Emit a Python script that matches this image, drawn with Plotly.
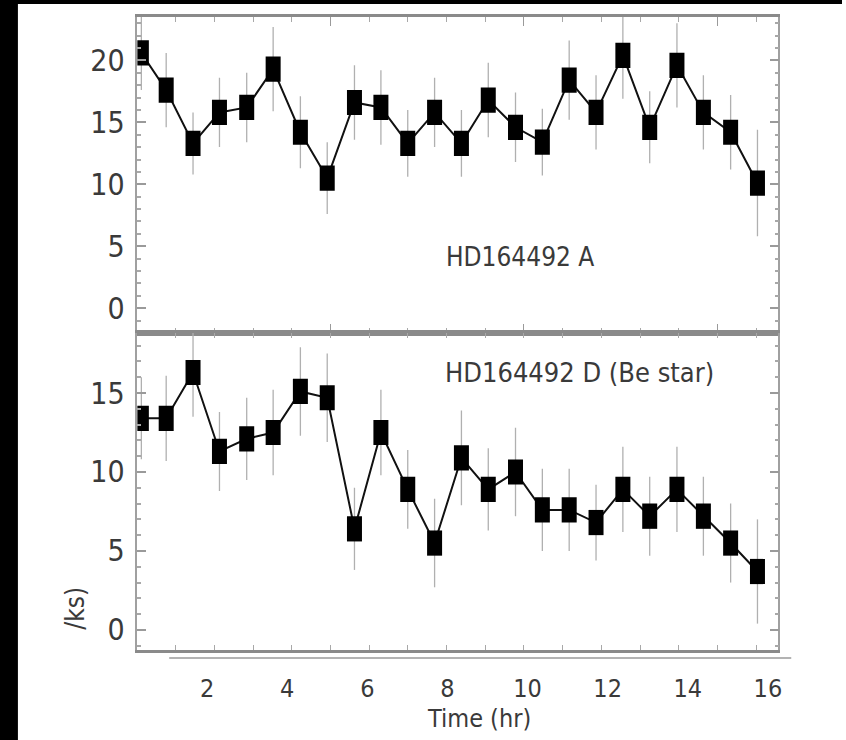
import plotly.graph_objects as go

# ---- data ----
time_hr = [0.36, 0.98, 1.65, 2.31, 2.99, 3.65, 4.33, 5.00, 5.68, 6.34, 7.01, 7.68,
           8.35, 9.02, 9.70, 10.37, 11.04, 11.71, 12.38, 13.05, 13.73, 14.39, 15.07, 15.74]

rate_A = [20.6, 17.6, 13.3, 15.8, 16.2, 19.3, 14.2, 10.5, 16.6, 16.2, 13.3, 15.8,
          13.3, 16.8, 14.6, 13.4, 18.4, 15.8, 20.4, 14.6, 19.6, 15.8, 14.2, 10.1]
err_A = [3.0, 3.0, 2.5, 2.8, 2.8, 3.4, 2.9, 2.9, 3.0, 3.0, 2.7, 2.8,
         2.7, 3.0, 2.8, 2.7, 3.2, 3.0, 3.5, 2.9, 3.4, 3.0, 3.0, 4.3]

rate_D = [13.4, 13.4, 16.3, 11.3, 12.1, 12.5, 15.1, 14.7, 6.4, 12.5, 8.9, 5.5,
          10.9, 8.9, 10.0, 7.6, 7.6, 6.8, 8.9, 7.2, 8.9, 7.2, 5.5, 3.7]
err_D = [2.6, 2.7, 2.8, 2.5, 2.6, 2.7, 2.8, 2.8, 2.6, 2.7, 2.5, 2.8,
         3.0, 2.6, 2.8, 2.6, 2.6, 2.4, 2.7, 2.5, 2.7, 2.5, 2.5, 3.3]

x_tick_vals = [2, 4, 6, 8, 10, 12, 14, 16]
x_tick_text = ["2", "4", "6", "8", "10", "12", "14", "16"]
label_A = "HD164492 A"
label_D = "HD164492 D (Be star)"
x_title = "Time (hr)"
y_title_part = "/ks)"

FONT = "DejaVu Sans Condensed, Liberation Sans Narrow, Liberation Sans, sans-serif"
W, H = 846, 740

fig = go.Figure()

def add_series(y, e, xa, ya):
    fig.add_trace(go.Scatter(
        x=time_hr, y=y, xaxis=xa, yaxis=ya,
        mode="lines+markers",
        line=dict(color="#111111", width=2),
        marker=dict(symbol="line-ns-open", size=18, color="#000000",
                    line=dict(color="#000000", width=15)),
        error_y=dict(type="data", array=e, visible=True,
                     color="#b0b0b0", thickness=1.3, width=0),
        showlegend=False, hoverinfo="skip"))

add_series(rate_A, err_A, "x", "y")
add_series(rate_D, err_D, "x2", "y2")

xdom = [138 / W, 782 / W]
top_dom = [1 - 333 / H, 1 - 17 / H]
bot_dom = [1 - 650 / H, 1 - 333 / H]
xrange = [0.26, 16.26]

common_x = dict(range=xrange, domain=xdom, showline=True, linecolor="#8a8a8a",
                linewidth=3, mirror="ticks", showgrid=False, zeroline=False,
                tickcolor="#9a9a9a")
common_y = dict(showline=True, linecolor="#a0a0a0", linewidth=1.5, mirror="ticks",
                showgrid=False, zeroline=False, ticks="inside", ticklen=9,
                tickwidth=1.5, tickcolor="#9a9a9a", tick0=0, dtick=5,
                minor=dict(ticks="inside", dtick=1, ticklen=4, tickcolor="#a8a8a8"),
                tickfont=dict(family=FONT, size=30, color="#3a3a3a"),
                ticklabelstandoff=5)

fig.update_layout(
    width=W, height=H,
    margin=dict(l=0, r=0, t=0, b=0),
    paper_bgcolor="white", plot_bgcolor="rgba(0,0,0,0)",
    xaxis=dict(common_x, anchor="y", ticks="inside", tickvals=[5.08, 9.91, 14.74],
               ticklen=9, showticklabels=False,
               minor=dict(ticks="inside", tick0=0.25, dtick=0.966, ticklen=5,
                          tickcolor="#a8a8a8")),
    yaxis=dict(common_y, domain=top_dom, anchor="x", range=[-2.0, 23.5]),
    xaxis2=dict(common_x, anchor="y2", ticks="", tickvals=x_tick_vals,
                ticktext=x_tick_text, showticklabels=True, ticklabelstandoff=14,
                tickfont=dict(family=FONT, size=25, color="#3a3a3a"),
                minor=dict(ticks="inside", tick0=0.25, dtick=0.966, ticklen=5,
                           tickcolor="#a8a8a8")),
    yaxis2=dict(common_y, domain=bot_dom, anchor="x2", range=[-1.27, 18.8]),
)

shapes = [
    # black scan border strips
    dict(type="rect", xref="paper", yref="paper", x0=0, x1=18 / W, y0=0, y1=1,
         fillcolor="black", line=dict(width=0), layer="above"),
    dict(type="rect", xref="paper", yref="paper", x0=0, x1=1, y0=1 - 4 / H, y1=1,
         fillcolor="black", line=dict(width=0), layer="above"),
    # offset axis line under the lower panel
    dict(type="line", xref="paper", yref="paper", x0=170 / W, x1=795 / W,
         y0=1 - 658 / H, y1=1 - 658 / H, line=dict(color="#9a9a9a", width=1.5)),
]
fig.update_layout(shapes=shapes)

def ann(text, px, py, size, angle=0):
    return dict(text=text, xref="paper", yref="paper", x=px / W, y=1 - py / H,
                xanchor="center", yanchor="middle", showarrow=False, textangle=angle,
                font=dict(family=FONT, size=size, color="#3a3a3a"))

annotations = [
    ann(label_A, 522, 257, 26),
    ann(label_D, 582, 373, 27),
    ann(x_title, 481, 718, 25),
    ann(y_title_part, 75, 608, 26, -90),
]
fig.update_layout(annotations=annotations)

fig.write_html("out.html")
